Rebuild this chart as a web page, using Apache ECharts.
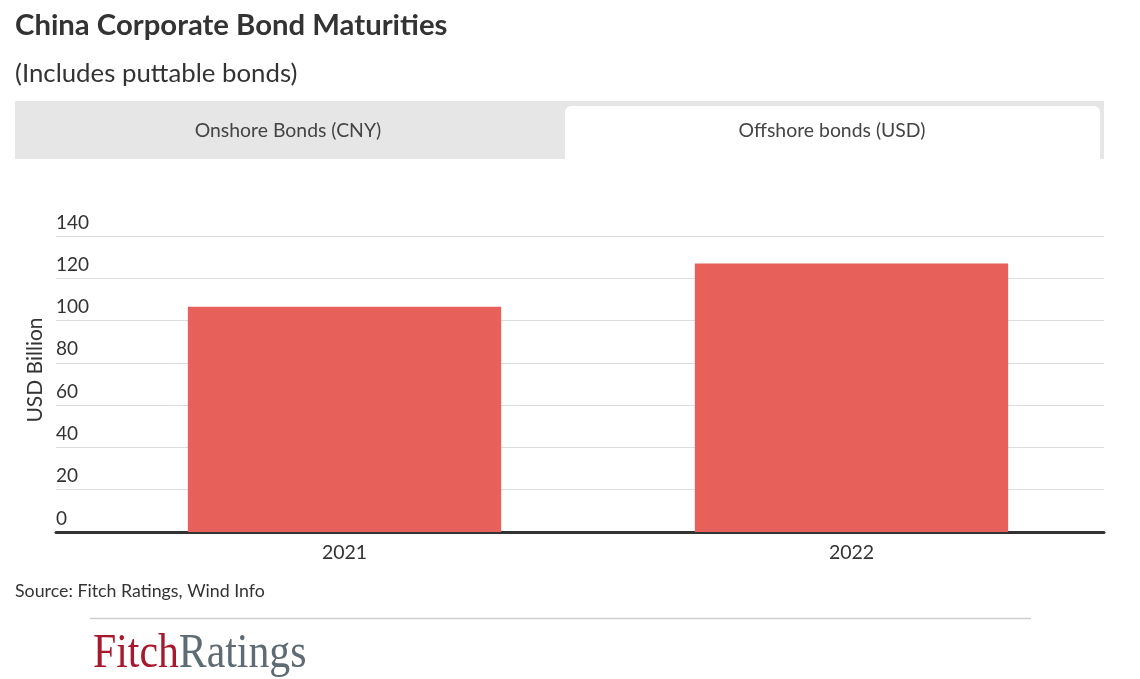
<!DOCTYPE html>
<html><head><meta charset="utf-8">
<script src="https://cdn.jsdelivr.net/npm/echarts@6/dist/echarts.min.js"></script>
<style>html,body{margin:0;padding:0;background:#fff}#c{width:1140px;height:679px}</style>
</head><body><div id="c"></div>
<script>
const categories = ['2021', '2022'];
const maturities = [106.5, 127];
const yTicks = { min: 0, max: 140, interval: 20 };
const titleText = 'China Corporate Bond Maturities';
const subtitleText = '(Includes puttable bonds)';
const tabLabels = ['Onshore Bonds (CNY)', 'Offshore bonds (USD)'];
const yAxisName = 'USD Billion';
const sourceText = 'Source: Fitch Ratings, Wind Info';

const chart = echarts.init(document.getElementById('c'));
const F = 'Lato, "Open Sans", sans-serif';
chart.setOption({
  animation: false,
  title: [
    { text: titleText, left: 10, top: 6, textStyle: { fontFamily: F, fontWeight: 'bold', fontSize: 29.3, color: '#333' } },
    { text: subtitleText, left: 10, top: 56, textStyle: { fontFamily: F, fontWeight: 'normal', fontSize: 25.8, color: '#333' } }
  ],
  grid: [
    { left: 56, right: 36, top: 236, bottom: 147 },
    { left: 91, right: 35, top: 236, bottom: 147 }
  ],
  xAxis: [
    { gridIndex: 0, type: 'category', data: [''], axisLine: { lineStyle: { color: '#333', width: 3 } },
      axisTick: { show: false }, axisLabel: { show: false } },
    { gridIndex: 1, type: 'category', data: categories, axisLine: { show: false }, axisTick: { show: false },
      axisLabel: { fontFamily: F, fontSize: 19.5, color: '#333', margin: 11 } }
  ],
  yAxis: [
    { gridIndex: 0, type: 'value', min: yTicks.min, max: yTicks.max, interval: yTicks.interval,
      axisLine: { show: false }, axisTick: { show: false },
      splitLine: { lineStyle: { color: '#dcdcdc', width: 1 } },
      axisLabel: { inside: true, verticalAlign: 'bottom', margin: 0, padding: [0, 0, 4, 0], fontFamily: F, fontSize: 19, color: '#333' } },
    { gridIndex: 1, type: 'value', min: yTicks.min, max: yTicks.max, interval: yTicks.interval, show: false }
  ],
  series: [
    { type: 'bar', xAxisIndex: 1, yAxisIndex: 1, data: maturities, barWidth: '61.8%', itemStyle: { color: '#e8605a' }, z: 3 }
  ],
  graphic: [
    { type: 'rect', shape: { x: 15, y: 101, width: 1089, height: 58 }, style: { fill: '#e6e6e6' }, z: -1 },
    { type: 'rect', shape: { x: 565, y: 106, width: 535, height: 53, r: [6, 6, 0, 0] }, style: { fill: '#fff' }, z: 0 },
    { type: 'text', x: 288, y: 131, style: { text: tabLabels[0], font: '19.4px ' + F, fill: '#444', align: 'center', verticalAlign: 'middle' } },
    { type: 'text', x: 832, y: 131, style: { text: tabLabels[1], font: '19.4px ' + F, fill: '#444', align: 'center', verticalAlign: 'middle' } },
    { type: 'text', x: 35, y: 370, rotation: Math.PI / 2, style: { text: yAxisName, font: '21px ' + F, fill: '#333', align: 'center', verticalAlign: 'middle' } },
    { type: 'text', x: 15, y: 591, style: { text: sourceText, font: '17.8px ' + F, fill: '#333', verticalAlign: 'middle' } },
    { type: 'line', shape: { x1: 90, y1: 618.5, x2: 1031, y2: 618.5 }, style: { stroke: '#cfcfcf', lineWidth: 1.5 } },
    { type: 'text', x: 93, y: 678, originX: 0, originY: 0, scaleX: 0.87,
      style: { rich: { a: { fontFamily: '"Liberation Serif", serif', fontSize: 48, fill: '#a6192e' }, b: { fontFamily: '"Liberation Serif", serif', fontSize: 48, fill: '#5f6b73' } }, text: '{a|Fitch}{b|Ratings}', verticalAlign: 'bottom' } }
  ]
});
</script></body></html>
